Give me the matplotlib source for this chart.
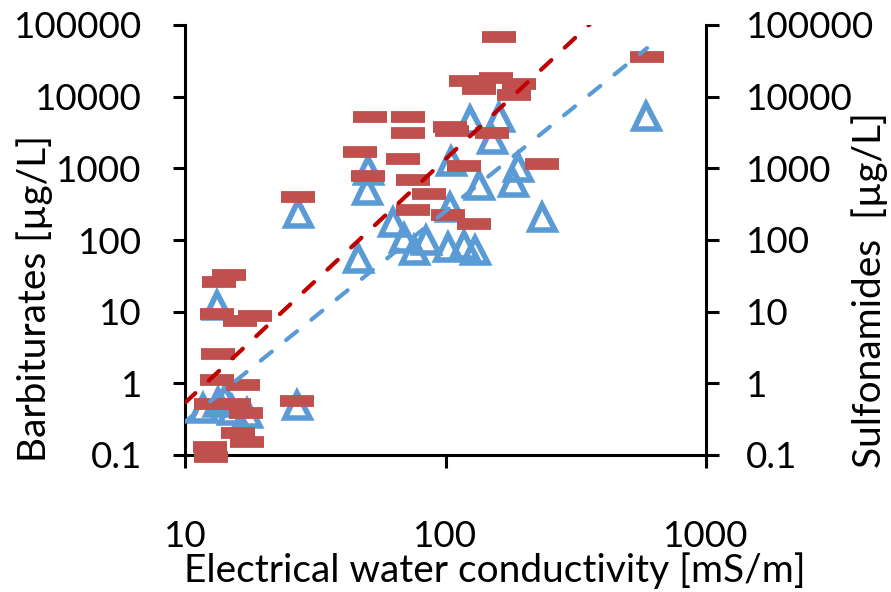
import numpy as np
import matplotlib
matplotlib.use("Agg")
import matplotlib.pyplot as plt

plt.rcParams['font.family'] = ['Lato', 'DejaVu Sans']

# Barbiturates: conductivity [mS/m] and concentration [µg/L]
barb_cond = [12.5, 12.6, 16.0, 17.3, 12.6, 15.4, 17.1, 13.3, 16.7, 13.4,
             13.3, 18.5, 16.3, 14.7, 13.5, 26.9, 27.1, 51.2, 71.5, 72.1,
             104.5, 106, 46.8, 68.4, 50.2, 74.8, 86.1, 74.8, 101.8, 129,
             118, 235, 151, 120, 155.6, 135, 192, 184, 161, 594]
barb_conc = [0.13, 0.095, 0.20, 0.15, 0.52, 0.52, 0.38, 1.1, 0.95, 2.6,
             9.3, 8.7, 7.4, 32, 26, 0.57, 400, 5200, 5200, 3100,
             3800, 3300, 1700, 1350, 780, 690, 440, 260, 225, 165,
             1080, 1150, 3100, 16500, 18200, 12800, 15000, 10600, 68000, 36000]

# Sulfonamides: conductivity [mS/m] and concentration [µg/L]
sulf_cond = [13.3, 26.9, 11.7, 13.4, 15.1, 17.3, 14.2, 50.2, 49.8, 27.1,
             46, 62.7, 69, 75.4, 83.8, 102, 118, 130, 104, 105,
             124, 160, 151, 135, 190, 182, 235, 589]
sulf_conc = [12.4, 0.5, 0.46, 0.55, 0.43, 0.38, 0.6, 950, 500, 240,
             56, 180, 107, 73, 100, 80, 86, 73, 290, 1270,
             4700, 5200, 2570, 586, 1050, 645, 210, 5400]

# Power-law trend lines y = a * x^b
barb_trend = (2.13e-4, 3.40)
sulf_trend = (3.33e-4, 2.94)

x_ticks = [10, 100, 1000]
y_ticks = [0.1, 1, 10, 100, 1000, 10000, 100000]
y_ticklabels = ['0.1', '1', '10', '100', '1000', '10000', '100000']

red = '#C0504D'
red_line = '#C00000'
blue = '#5B9BD5'

fig = plt.figure(figsize=(8.91, 5.92), dpi=100)
ax = fig.add_axes([185 / 891, 1 - 455 / 592, (706 - 185) / 891, (455 - 25) / 592])
ax2 = ax.twinx()

ax.set_xscale('log')
ax.set_yscale('log')
ax2.set_yscale('log')
ax.set_xlim(10, 1000)
ax.set_ylim(0.1, 100000)
ax2.set_ylim(0.1, 100000)

ax.plot(sulf_cond, sulf_conc, linestyle='none', marker='^', markersize=18,
        markerfacecolor='none', markeredgecolor=blue, markeredgewidth=4,
        clip_on=False, zorder=2)
ax.plot(barb_cond, barb_conc, linestyle='none', marker='_', markersize=24,
        markeredgecolor=red, markeredgewidth=8.5, clip_on=False, zorder=3)

xs = np.logspace(1, np.log10(max(sulf_cond + barb_cond)), 200)
a, b = sulf_trend
ax.plot(xs, a * xs ** b, color=blue, linewidth=3, linestyle=(0, (3.4, 4.4)),
        dash_capstyle='round', zorder=4)
a, b = barb_trend
ax.plot(xs, a * xs ** b, color=red_line, linewidth=3, linestyle=(0, (3.4, 4.4)),
        dash_capstyle='round', zorder=5)

for a_ in (ax, ax2):
    a_.spines['top'].set_visible(False)
    for s in a_.spines.values():
        s.set_linewidth(2.2)
        s.set_color('black')
    a_.yaxis.set_minor_locator(matplotlib.ticker.NullLocator())

ax.spines['right'].set_visible(False)
ax2.spines['left'].set_visible(False)
ax2.spines['bottom'].set_visible(False)

ax.set_xticks(x_ticks)
ax.set_xticklabels([str(v) for v in x_ticks])
ax.xaxis.set_minor_locator(matplotlib.ticker.NullLocator())
ax.set_yticks(y_ticks)
ax.set_yticklabels(y_ticklabels)
ax2.set_yticks(y_ticks)
ax2.set_yticklabels(y_ticklabels)

ax.tick_params(axis='x', direction='out', length=9, width=2.2, pad=38, labelsize=26.5)
ax.tick_params(axis='y', direction='out', length=9, width=2.2, pad=22, labelsize=26.5)
ax2.tick_params(axis='y', direction='out', length=9, width=2.2, pad=20, labelsize=26.5)

ax.set_xlabel('Electrical water conductivity [mS/m]', fontsize=28, va='center')
ax.xaxis.set_label_coords((495 - 185) / 521, (455 - 571) / 430)
ax.set_ylabel('Barbiturates [µg/L]', fontsize=28, va='center')
ax.yaxis.set_label_coords((35 - 185) / 521, (455 - 298) / 430)
ax2.set_ylabel('Sulfonamides  [µg/L]', fontsize=28, va='center')
ax2.yaxis.set_label_coords((870 - 185) / 521, (455 - 290) / 430)

fig.savefig('out.png', dpi=100, facecolor='white')
